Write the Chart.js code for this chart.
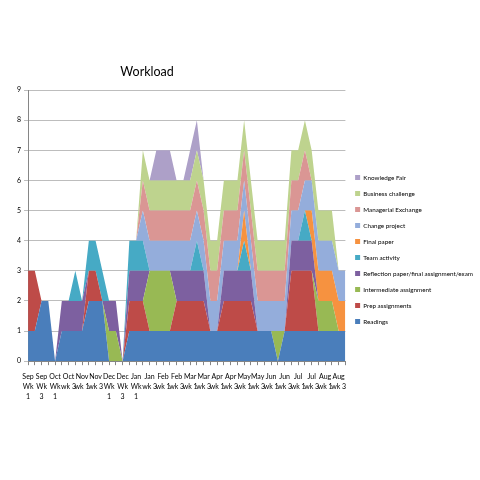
<!DOCTYPE html>
<html>
<head>
<meta charset="utf-8">
<script src="https://cdn.jsdelivr.net/npm/chart.js@4.4.1/dist/chart.umd.min.js"></script>
<style>
html,body{margin:0;padding:0;background:#fff;}
#wrap{width:480px;height:480px;}
</style>
</head>
<body>
<div id="wrap"><canvas id="c" width="480" height="480"></canvas></div>
<script>
const categories = [
 "Sep Wk 1","Sep Wk 2","Sep Wk 3","Sep Wk 4",
 "Oct Wk 1","Oct Wk 2","Oct wk 3","Oct wk 4",
 "Nov wk 1","Nov wk 2","Nov wk 3","Nov wk 4",
 "Dec Wk 1","Dec Wk 2","Dec Wk 3","Dec Wk 4",
 "Jan Wk 1","Jan wk 2","Jan wk 3","Jan wk 4",
 "Feb wk 1","Feb wk 2","Feb wk 3","Feb wk 4",
 "Mar wk 1","Mar wk 2","Mar wk 3","Mar wk 4",
 "Apr wk 1","Apr wk 2","Apr wk 3","Apr wk 4",
 "May wk 1","May wk 2","May wk 3","May wk 4",
 "Jun wk 1","Jun wk 2","Jun wk 3","Jun wk 4",
 "Jul wk 1","Jul wk 2","Jul wk 3","Jul wk 4",
 "Aug wk 1","Aug wk 2","Aug wk 3","Aug wk 4"
];
const yTicks = [0,1,2,3,4,5,6,7,8,9];

const readings      = [1,1,2,2,0, 1,1,1,1,2, 2,2,0,0,0, 1,1,1,1,1, 1,1,1,1,1, 1,1,1,1,1, 1,1,1,1,1, 1,1,0,1,1, 1,1,1,1,1, 1,1,1];
const prep          = [2,2,0,0,0, 0,0,0,0,1, 1,0,0,0,0, 1,1,1,0,0, 0,0,1,1,1, 1,1,0,0,1, 1,1,1,1,0, 0,0,0,0,2, 2,2,2,0,0, 0,0,0];
const intermediate  = [0,0,0,0,0, 0,0,0,0,0, 0,0,1,1,0, 0,0,0,2,2, 2,2,0,0,0, 0,0,0,0,0, 0,0,0,0,0, 0,0,1,0,0, 0,0,0,1,1, 1,0,0];
const reflection    = [0,0,0,0,0, 1,1,1,1,0, 0,0,1,1,0, 1,1,1,0,0, 0,0,1,1,1, 1,1,0,0,1, 1,1,1,1,0, 0,0,0,0,1, 1,1,1,0,0, 0,0,0];
const team          = [0,0,0,0,0, 0,0,1,0,1, 1,1,0,0,0, 1,1,1,0,0, 0,0,0,0,0, 1,0,0,0,0, 0,0,1,0,0, 0,0,0,0,0, 0,1,0,0,0, 0,0,0];
const finalPaper    = [0,0,0,0,0, 0,0,0,0,0, 0,0,0,0,0, 0,0,0,0,0, 0,0,0,0,0, 0,0,0,0,0, 0,0,1,0,0, 0,0,0,0,0, 0,0,1,1,1, 1,1,1];
const changeProject = [0,0,0,0,0, 0,0,0,0,0, 0,0,0,0,0, 0,0,1,1,1, 1,1,1,1,1, 1,1,1,1,1, 1,1,1,1,1, 1,1,1,1,1, 1,1,1,1,1, 1,1,1];
const managerial    = [0,0,0,0,0, 0,0,0,0,0, 0,0,0,0,0, 0,0,1,1,1, 1,1,1,1,1, 1,1,1,1,1, 1,1,1,1,1, 1,1,1,1,1, 1,1,0,0,0, 0,0,0];
const business      = [0,0,0,0,0, 0,0,0,0,0, 0,0,0,0,0, 0,0,1,1,1, 1,1,1,1,1, 1,1,1,1,1, 1,1,1,1,1, 1,1,1,1,1, 1,1,1,1,1, 1,0,0];
const knowledgeFair = [0,0,0,0,0, 0,0,0,0,0, 0,0,0,0,0, 0,0,0,0,1, 1,1,0,0,1, 1,0,0,0,0, 0,0,0,0,0, 0,0,0,0,0, 0,0,0,0,0, 0,0,0];

const seriesNames = ["Readings","Prep assignments","Intermediate assignment","Reflection paper/final assignment/exam","Team activity","Final paper","Change project","Managerial Exchange","Business challenge","Knowledge Fair"];
const seriesData = [readings,prep,intermediate,reflection,team,finalPaper,changeProject,managerial,business,knowledgeFair];
const seriesColors = ["#4A7EBB","#BE4B48","#98B954","#7D60A0","#46AAC5","#F69240","#94ADDB","#DA9694","#BED38E","#ADA0C8"];

const FONT = "Lato, 'Open Sans', sans-serif";

function wrapLabel(s){
  const parts = s.split(" ");
  if (s.indexOf("Wk") >= 0) return parts;
  return [parts[0], parts.slice(1).join(" ")];
}

const titlePlugin = {
  id: 'posTitle',
  afterDraw(chart){
    const ca = chart.chartArea;
    const ctx = chart.ctx;
    ctx.save();
    ctx.font = "12.5px " + FONT;
    ctx.fillStyle = "#000";
    ctx.textAlign = "center";
    ctx.textBaseline = "middle";
    ctx.fillText("Workload", ca.left + ca.width * 0.375, ca.top - 18);
    ctx.restore();
  }
};

new Chart(document.getElementById('c'), {
  type: 'line',
  data: {
    labels: categories,
    datasets: seriesData.map((d, i) => ({
      label: seriesNames[i],
      data: d,
      backgroundColor: seriesColors[i],
      borderColor: 'rgba(0,0,0,0)',
      borderWidth: 0,
      pointRadius: 0,
      tension: 0,
      fill: i === 0 ? 'origin' : '-1'
    }))
  },
  options: {
    responsive: false,
    animation: false,
    layout: { padding: { left: 14, right: -3, top: 90, bottom: 71 } },
    plugins: {
      title: { display: false },
      tooltip: { enabled: false },
      legend: {
        position: 'right',
        align: 'center',
        reverse: true,
        maxWidth: 160,
        labels: {
          boxWidth: 5, boxHeight: 5, padding: 9.7,
          color: '#000',
          font: { family: FONT, size: 6.3 }
        }
      }
    },
    scales: {
      x: {
        offset: false,
        grid: { display: true, drawOnChartArea: false, drawTicks: true, tickLength: 4, color: '#868686' },
        border: { display: true, color: '#868686' },
        ticks: {
          autoSkip: false, maxRotation: 0, minRotation: 0, padding: 7,
          color: '#000',
          font: { family: FONT, size: 7, lineHeight: 1.42 },
          callback: function(v, idx){ return idx % 2 === 0 ? wrapLabel(categories[idx]) : ''; }
        }
      },
      y: {
        stacked: true,
        min: yTicks[0], max: yTicks[yTicks.length-1],
        grid: { color: '#BDBDBD', tickLength: 4 },
        border: { display: true, color: '#868686' },
        ticks: {
          stepSize: 1, padding: 3, color: '#000',
          font: { family: FONT, size: 7 }
        }
      }
    }
  },
  plugins: [titlePlugin]
});
</script>
</body>
</html>
